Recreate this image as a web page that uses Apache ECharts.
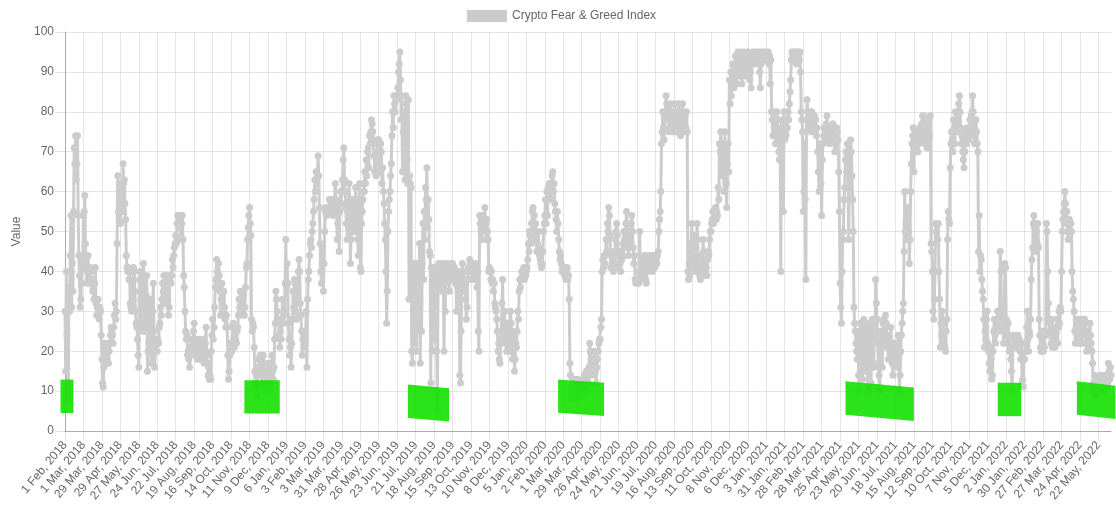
<!DOCTYPE html>
<html>
<head>
<meta charset="utf-8">
<script src="https://cdn.jsdelivr.net/npm/echarts@6/dist/echarts.min.js"></script>
<style>
  html, body { margin: 0; padding: 0; background: #ffffff; }
  #chart { width: 1116px; height: 509px; }
</style>
</head>
<body>
<div id="chart"></div>
<script>
// ---------- DATA ----------
const firstDate = '2018-02-01';
const lastDate = '2022-06-10';
const missingDates = ['2018-04-14', '2018-04-15', '2018-04-16'];
const seriesName = 'Crypto Fear & Greed Index';

// daily index values, in 28-day blocks (one block per x-axis label)
const fgiFeb2018toFeb2019 = [
  [30,15,40,24,11,8,36,30,44,54,31,42,35,55,71,67,74,63,67,74,54,44,39,31,33,37,44,41],
  [54,55,59,47,41,37,40,44,38,37,41,40,37,38,35,36,33,37,41,32,29,31,33,30,28,31,30,24],
  [18,12,11,16,22,17,20,22,18,21,17,20,22,24,26,25,24,22,26,29,32,28,30,47,64,55,60,62],
  [52,58,61,55,67,62,63,57,53,44,41,40,41,38,40,32,31,30,34,37,41,40,35,30,27,26,23,19],
  [16,38,40,33,27,25,39,42,38,25,26,34,39,15,20,22,26,33,22,17,24,30,37,25,16,20,23,22],
  [20,23,22,26,27,31,29,33,37,35,39,36,32,35,39,36,33,29,31,38,39,37,39,43,41,44,46,47],
  [49,47,52,54,54,53,54,51,48,52,54,48,39,36,30,25,23,24,19,20,18,16,19,21,23,20,22,25],
  [27,21,19,22,20,18,23,21,19,20,18,22,23,19,18,17,19,22,26,19,17,14,16,13,14,13,20,24],
  [28,23,26,31,36,38,43,40,36,42,39,35,29,33,37,34,30,35,31,28,26,29,26,19,13,15,19,20],
  [22,20,26,27,23,21,24,23,22,25,26,29,33,31,35,31,29,33,35,34,29,31,36,41,42,48,51,54],
  [56,52,49,28,25,27,26,21,15,12,14,9,12,16,18,15,19,17,14,12,15,19,17,11,14,12,15,13],
  [17,12,10,14,17,12,19,15,13,16,23,27,35,33,30,27,28,24,21,25,23,28,33,27,29,30,37,48],
  [36,42,37,27,23,19,21,16,22,28,35,31,38,37,30,28,33,36,40,43,40,32,29,25,19,23,21,25]
];
const fgiFeb2019toFeb2020 = [
  [25,23,30,16,33,38,40,44,47,48,46,50,52,55,58,63,60,65,62,64,69,64,56,47,40,37,42,46],
  [35,42,50,55,56,54,55,56,55,58,56,55,58,56,55,54,57,58,62,58,55,48,52,57,45,55,60,57],
  [60,63,68,71,63,60,56,52,48,55,57,62,58,42,48,55,58,53,50,54,58,61,53,50,48,44,58,62],
  [41,40,52,55,58,62,60,65,62,68,64,70,71,66,74,72,75,78,77,75,72,69,65,70,64,66,73,70],
  [73,68,65,72,70,62,66,60,57,52,48,40,27,35,50,55,58,60,64,67,74,80,76,84,82,80,84,83],
  [84,86,90,92,95,88,78,84,65,75,80,70,63,84,82,68,62,83,33,64,62,61,20,17,42,30,38,22],
  [42,20,38,25,41,35,47,17,40,25,42,52,38,55,48,61,58,66,51,58,53,45,44,12,41,20,38,34],
  [38,41,23,40,20,5,41,42,38,40,35,41,37,42,38,20,37,30,42,40,38,41,40,35,42,38,40,41],
  [42,40,38,41,37,40,30,38,36,35,40,14,12,25,38,42,36,40,35,38,33,28,31,38,41,40,43,42],
  [40,38,42,41,40,38,41,42,41,36,40,25,20,54,52,50,48,52,54,50,53,56,52,48,53,50,48,40],
  [41,40,38,40,37,38,35,37,32,31,30,28,25,20,22,18,17,23,25,32,38,22,25,30,23,27,20,25],
  [22,27,20,25,30,27,21,18,22,25,15,18,22,21,25,30,28,35,38,36,38,40,39,40,41,38,40,39],
  [40,41,43,47,45,50,49,47,52,55,56,50,54,49,52,48,45,47,50,46,44,43,42,41,42,45,50,52]
];
const fgiFeb2020toJan2021 = [
  [54,58,52,60,54,61,58,62,60,58,61,64,65,60,62,57,55,53,50,55,52,48,45,43,44,42,40,41],
  [40,41,39,40,38,40,41,38,39,33,17,14,10,8,12,9,11,13,10,8,12,11,13,9,12,10,11,9],
  [12,10,13,11,14,12,10,15,13,14,12,16,22,20,16,14,18,15,17,20,18,15,12,16,18,20,22,23],
  [23,26,28,40,43,41,44,42,44,48,45,52,50,56,54,49,41,44,42,45,40,44,42,48,50,52,49,45],
  [41,44,42,40,45,43,47,44,50,48,46,52,55,52,48,44,50,46,48,52,54,50,46,42,44,38,37,38],
  [37,38,37,40,50,38,41,43,40,39,42,44,41,38,37,40,43,44,42,41,43,44,42,40,42,44,43,41],
  [44,43,42,44,45,50,53,55,60,72,75,80,76,73,78,80,84,82,80,78,75,79,82,80,76,78,75,77],
  [80,82,78,75,77,80,76,82,79,75,74,77,80,82,78,76,75,79,76,80,75,40,38,42,39,41,47,52],
  [45,42,49,47,43,40,44,52,48,42,40,39,38,41,44,40,48,45,42,40,39,41,39,43,45,44,48,50],
  [50,52,53,55,52,55,54,56,53,55,54,61,58,72,70,75,70,64,68,72,60,75,69,62,56,67,72,65],
  [88,82,90,84,90,92,88,86,91,94,90,87,93,95,92,89,94,95,90,87,92,94,95,93,89,91,94,95],
  [93,95,92,88,90,86,93,95,94,92,95,94,93,95,92,94,93,95,90,86,92,95,93,94,95,93,94,95],
  [95,93,94,95,92,94,87,93,80,78,74,80,76,78,72,75,80,78,75,70,68,74,40,78,76,73,55,80]
];
const fgiJan2021toJan2022 = [
  [73,75,74,78,76,80,78,82,85,88,93,95,94,95,93,95,94,95,92,93,95,94,93,95,90,80,78,75],
  [55,60,72,58,38,78,83,80,78,76,80,78,75,80,77,78,76,79,75,78,74,76,70,65,60,72,66,62],
  [54,68,72,74,76,73,75,77,79,74,76,75,72,74,76,73,75,77,76,74,70,72,74,76,75,73,65,55],
  [37,31,27,40,48,50,58,61,68,70,65,72,68,48,61,66,73,70,64,58,50,31,27,25,22,20,18,25],
  [14,10,21,27,23,20,13,24,28,22,15,26,25,21,10,18,27,23,20,12,25,28,22,16,26,24,38,32],
  [28,22,17,14,10,20,25,21,16,27,28,24,22,29,27,21,23,18,24,22,20,26,22,17,14,19,22,20],
  [21,18,16,20,24,19,10,14,20,24,27,30,32,45,60,50,52,48,56,54,50,42,48,60,67,72,74,76],
  [65,74,72,70,75,73,70,72,74,76,73,75,77,79,74,79,76,72,78,74,71,73,75,78,74,79,47,45],
  [40,30,28,33,40,52,50,52,48,52,40,33,21,27,24,30,27,24,22,21,20,25,28,48,55,53,52,66],
  [72,75,73,70,78,76,72,80,78,75,76,80,82,84,80,76,72,74,70,68,66,70,73,75,72,76,74,73],
  [75,78,74,79,80,84,80,76,72,74,78,75,72,70,45,54,40,44,43,38,35,33,28,21,25,23,28,30],
  [22,20,17,15,21,18,13,14,20,25,28,24,22,25,28,30,25,27,30,45,40,28,25,30,22,28,42,41],
  [28,24,22,27,24,20,21,18,15,10,21,24,23,22,24,21,23,22,24,21,23,20,18,22,12,13,11,18]
];
const fgiJan2022toJun2022 = [
  [18,22,20,26,30,23,20,25,24,28,38,43,46,52,54,51,45,48,50,47,52,46,28,24,21,20,25,20],
  [20,24,21,25,24,52,50,40,32,28,24,27,22,28,21,26,24,22,21,23,25,28,22,26,30,27,31,30],
  [40,50,53,55,57,60,57,52,55,50,48,52,53,50,52,50,40,35,33,30,25,22,26,28,24,27,22,25],
  [22,28,25,22,27,26,24,28,27,22,20,25,24,22,21,27,24,22,20,17,12,10,14,11,9,12,10,13],
  [11,13,12,14,11,13,12,10,11,13,14,12,13,11,12,17,15,13,16,14]
];

// highlighted (green) extreme-fear zones: start, end, band level at start / end
const zoneStart = ['1 Feb, 2018', '10 Nov, 2018', '16 Jul, 2019', '29 Feb, 2020', '10 May, 2021', '27 Dec, 2021', '26 Apr, 2022'];
const zoneEnd   = ['7 Feb, 2018', '20 Dec, 2018', '3 Sep, 2019', '25 Apr, 2020', '8 Aug, 2021', '18 Jan, 2022', '10 Jun, 2022'];
const zoneLevelStart = [8.7, 8.55, 7.35, 8.65, 8.15, 7.9, 8.15];
const zoneLevelEnd   = [8.7, 8.55, 6.65, 8.0, 6.8, 7.9, 7.3];

const yTicks = { min: 0, max: 100, step: 10 };

// ---------- BUILD ----------
const monthNames = ['Jan','Feb','Mar','Apr','May','Jun','Jul','Aug','Sep','Oct','Nov','Dec'];
function buildCategories() {
  const out = [];
  const d = new Date(firstDate + 'T00:00:00Z');
  const end = new Date(lastDate + 'T00:00:00Z');
  while (d <= end) {
    const iso = d.toISOString().slice(0, 10);
    if (missingDates.indexOf(iso) < 0) {
      out.push(d.getUTCDate() + ' ' + monthNames[d.getUTCMonth()] + ', ' + d.getUTCFullYear());
    }
    d.setUTCDate(d.getUTCDate() + 1);
  }
  return out;
}
const categories = buildCategories();
const blocks = [].concat(fgiFeb2018toFeb2019, fgiFeb2019toFeb2020, fgiFeb2020toJan2021, fgiJan2021toJan2022, fgiJan2022toJun2022);
const bad = [];
blocks.forEach((b, i) => { if (i < blocks.length - 1 && b.length !== 28) bad.push(i + ':' + b.length); });
const values = [].concat.apply([], blocks);
if (bad.length || values.length !== categories.length) {
  throw new Error('data mismatch ' + bad.join(',') + ' values=' + values.length + ' cats=' + categories.length);
}

const zoneData = zoneStart.map((s, i) => [
  categories.indexOf(s), categories.indexOf(zoneEnd[i]), zoneLevelStart[i], zoneLevelEnd[i]
]);

const FONT = 'Liberation Sans, Arial, Helvetica, sans-serif';
const chart = echarts.init(document.getElementById('chart'), null, { renderer: 'canvas' });
chart.setOption({
  animation: false,
  backgroundColor: '#ffffff',
  textStyle: { fontFamily: FONT },
  legend: {
    data: [seriesName],
    top: 5,
    left: 462,
    icon: 'rect',
    itemWidth: 40,
    itemHeight: 12,
    itemGap: 10,
    textStyle: { color: '#666', fontSize: 12, fontFamily: FONT },
    selectedMode: false
  },
  grid: { left: 65, right: 5, top: 32, bottom: 78, containLabel: false },
  xAxis: {
    type: 'category',
    data: categories,
    boundaryGap: false,
    axisLine: { show: true, lineStyle: { color: 'rgba(0,0,0,0.25)', width: 1 } },
    axisTick: { show: true, interval: 27, length: 10, lineStyle: { color: 'rgba(0,0,0,0.1)' } },
    axisLabel: { interval: 27, rotate: 50, margin: 12, color: '#666', fontSize: 12, fontFamily: FONT },
    splitLine: { show: true, interval: 27, lineStyle: { color: 'rgba(0,0,0,0.1)', width: 1 } }
  },
  yAxis: {
    type: 'value',
    min: yTicks.min,
    max: yTicks.max,
    interval: yTicks.step,
    name: 'Value',
    nameLocation: 'middle',
    nameRotate: 90,
    nameGap: 41,
    nameTextStyle: { color: '#666', fontSize: 12, fontFamily: FONT },
    axisLine: { show: true, lineStyle: { color: 'rgba(0,0,0,0.25)', width: 1 } },
    axisTick: { show: true, length: 10, lineStyle: { color: 'rgba(0,0,0,0.1)' } },
    axisLabel: { margin: 11, color: '#666', fontSize: 12, fontFamily: FONT },
    splitLine: { show: true, lineStyle: { color: 'rgba(0,0,0,0.1)', width: 1 } }
  },
  series: [
    {
      name: seriesName,
      type: 'line',
      z: 2,
      data: values,
      showAllSymbol: true,
      symbol: 'circle',
      symbolSize: 7,
      color: '#cccccc',
      lineStyle: { color: '#cccccc', width: 3 },
      itemStyle: { color: '#cccccc', borderWidth: 0 },
      emphasis: { disabled: true }
    },
    {
      name: 'zones',
      type: 'custom',
      z: 3,
      silent: true,
      encode: { x: [0, 1], y: [2, 3] },
      data: zoneData,
      renderItem: function (params, api) {
        const p1 = api.coord([api.value(0), api.value(2)]);
        const p2 = api.coord([api.value(1), api.value(3)]);
        const pad = 4.5, half = 16.7;
        const slope = (p2[0] !== p1[0]) ? (p2[1] - p1[1]) / (p2[0] - p1[0]) : 0;
        const xa = p1[0] - pad, xb = p2[0] + pad;
        const ya = p1[1] - slope * pad, yb = p2[1] + slope * pad;
        return {
          type: 'polygon',
          shape: { points: [[xa, ya - half], [xb, yb - half], [xb, yb + half], [xa, ya + half]] },
          style: { fill: 'rgba(20,224,0,0.9)' }
        };
      }
    }
  ]
});
</script>
</body>
</html>
